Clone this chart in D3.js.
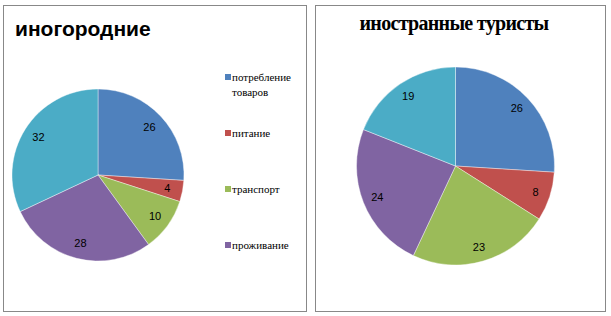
<!DOCTYPE html>
<html>
<head>
<meta charset="utf-8">
<script src="https://cdn.jsdelivr.net/npm/d3@7"></script>
<style>
  body { margin: 0; background: #fff; }
</style>
</head>
<body>
<svg id="chart" width="611" height="316"></svg>
<script>
"use-strict";

// categories (legend shows only the first four)
const categories = ["потребление товаров", "питание", "транспорт", "проживание", "прочее"];
const colors = ["#4F81BD", "#C0504D", "#9BBB59", "#8064A2", "#4BACC6"];

// values, %
const localValues = [26, 4, 10, 28, 32];
const foreignValues = [26, 8, 23, 24, 19];

const titleLeft = "иногородние";
const titleRight = "иностранные туристы";

const sansFont = "'Liberation Sans', Arial, sans-serif";
const serifFont = "'Liberation Serif', 'Times New Roman', serif";

const svg = d3.select("#chart");

// panel frames
const panels = [
    { x: 3.5, y: 5.5, w: 303, h: 306 },
    { x: 315.5, y: 5.5, w: 290, h: 306 }
];
svg.selectAll("rect.frame")
    .data(panels)
    .enter()
    .append("rect")
    .attr("class", "frame")
    .attr("x", d => d.x)
    .attr("y", d => d.y)
    .attr("width", d => d.w)
    .attr("height", d => d.h)
    .attr("fill", "#fff")
    .attr("stroke", "#888")
    .attr("stroke-width", 1);

const pie = d3.pie().sort(null).value(d => d);

function drawPie(values, cx, cy, r, labelK) {
    const g = svg.append("g")
        .attr("transform", "translate(" + cx + "," + cy + ")");
    const arc = d3.arc().innerRadius(0).outerRadius(r);
    const labelArc = d3.arc().innerRadius(r * labelK).outerRadius(r * labelK);
    const arcs = pie(values);

    g.selectAll("path")
        .data(arcs)
        .enter()
        .append("path")
        .attr("d", arc)
        .attr("fill", (d, i) => colors[i])
        .attr("stroke", "#fff")
        .attr("stroke-width", 0.4);

    g.selectAll("text")
        .data(arcs)
        .enter()
        .append("text")
        .attr("font-family", sansFont)
        .attr("font-size", 11)
        .attr("transform", d => "translate(" + labelArc.centroid(d) + ")")
        .attr("text-anchor", "middle")
        .attr("dy", "0.35em")
        .text(d => d.data);
}

drawPie(localValues, 98, 175, 86, 0.82);
drawPie(foreignValues, 455.5, 166, 99, 0.85);

// titles
svg.append("text")
    .attr("x", 15)
    .attr("y", 36)
    .attr("font-family", sansFont)
    .attr("font-weight", "bold")
    .attr("font-size", 21)
    .text(titleLeft);

svg.append("text")
    .attr("x", 454)
    .attr("y", 30)
    .attr("text-anchor", "middle")
    .attr("font-family", serifFont)
    .attr("font-weight", "bold")
    .attr("font-size", 20)
    .attr("letter-spacing", -0.7)
    .text(titleRight);

// legend (left chart)
const legendY = d3.scalePoint()
    .domain(categories.slice(0, 4))
    .range([77, 245]);

const items = svg.append("g")
    .selectAll("g")
    .data(categories.slice(0, 4))
    .enter()
    .append("g")
    .attr("transform", d => "translate(225," + legendY(d) + ")");

items.append("rect")
    .attr("x", 0)
    .attr("y", -3)
    .attr("width", 6)
    .attr("height", 6)
    .attr("fill", (d, i) => colors[i]);

items.append("text")
    .attr("font-family", serifFont)
    .attr("font-size", 11)
    .attr("fill", "#000")
    .each(function (d) {
        const words = d === "потребление товаров" ? ["потребление", "товаров"] : [d];
        d3.select(this).selectAll("tspan")
            .data(words)
            .enter()
            .append("tspan")
            .attr("x", 7)
            .attr("y", (w, i) => i * 15)
            .attr("dy", "0.35em")
            .text(w => w);
    });
</script>
</body>
</html>
